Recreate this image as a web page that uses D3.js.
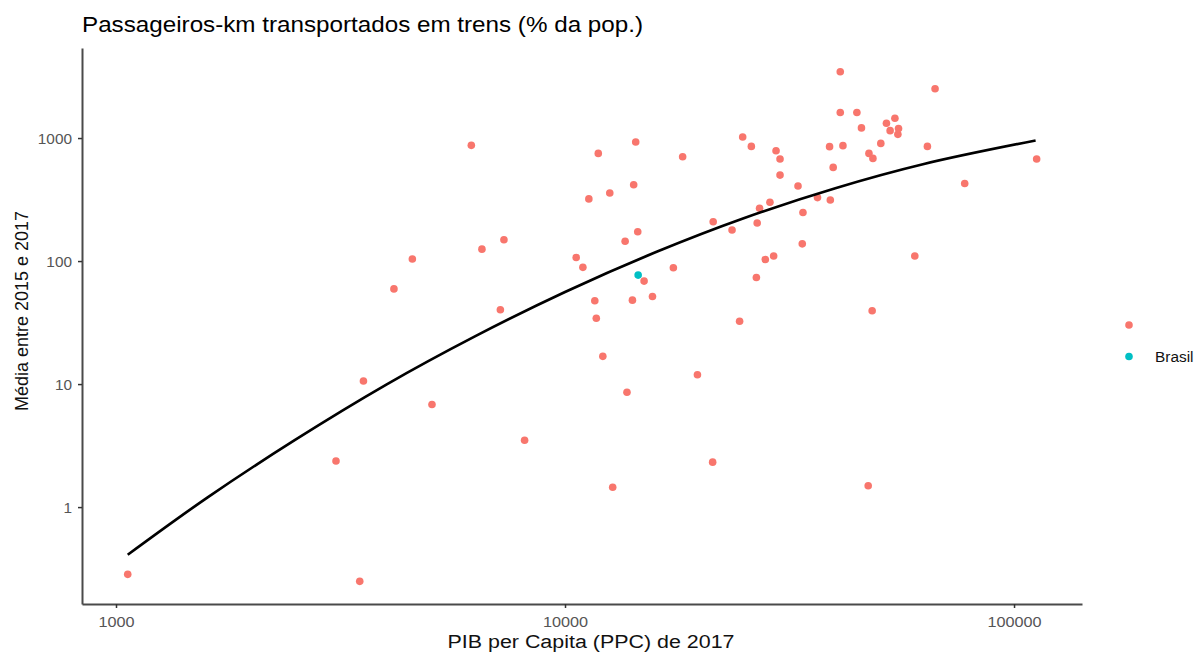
<!DOCTYPE html>
<html>
<head>
<meta charset="utf-8">
<script src="https://cdnjs.cloudflare.com/ajax/libs/d3/7.8.5/d3.min.js"></script>
<style>
  body { margin: 0; background: #fff; }
  svg text { font-family: "Liberation Sans", Arial, sans-serif; }
</style>
</head>
<body>
<div class="chartContainer"></div>
<script>
// PIB per capita (PPC, 2017) and passageiros-km (% pop.)
const pibOutros = [
  1062, 3090, 3490, 3557, 4159, 4571, 5055, 6185, 6531, 7178,
  7311, 8128, 10590, 10960, 11300, 11650, 11740, 11860, 12140, 12580,
  12770, 13610, 13740, 14130, 14220, 14370, 14520, 15000, 15660, 17430,
  18280, 19720, 21320, 21380, 23550, 24480, 24870, 26000, 26680, 26790,
  27120, 27930, 28600, 29150, 29510, 30120, 30120, 33030, 33760, 33880,
  36500, 38830, 38980, 39560, 41020, 41020, 41590, 44670, 45730, 47340,
  47520, 48310, 48500, 50500, 51980, 52970, 54290, 55120, 55300, 60120,
  64130, 66700, 77650, 112300
];
const passOutros = [
  0.284, 2.37, 0.249, 10.6, 59.4, 104, 6.82, 872, 125, 40.2,
  149, 3.49, 107, 88.9, 320, 47.6, 34.3, 750, 16.8, 357,
  1.45, 145, 8.59, 48.1, 417, 929, 173, 68.7, 51.5, 88.2,
  705, 11.9, 2.32, 209, 179, 32.4, 1020, 855, 73.6, 204,
  269, 103, 301, 110, 789, 676, 500, 407, 138, 248,
  328, 851, 314, 577, 3460, 1611, 867, 1611, 1209, 1.49,
  750, 39.5, 683, 905, 1318, 1149, 1448, 1072, 1193, 110,
  855, 2514, 427, 676
];
const pibBrasil = [14550];
const passBrasil = [76.9];

// fitted curve (log-log)
const fitPib = [1062, 1600, 2500, 4000, 6300, 10000, 16000, 25000, 40000, 63000, 111700];
const fitPass = [0.41, 1.2, 3.5, 9.9, 24.4, 56, 119, 223, 391, 615, 955];

const legendGroups = ["", "Brasil"];
const groupColors = ["#F8766D", "#00BFC4"];
const xTicks = [1000, 10000, 100000];
const yTicks = [1, 10, 100, 1000];

document.addEventListener("DOMContentLoaded", function () {
  const W = 1200;
  const H = 655;
  const left = 82, right = 1082, top = 48, bottom = 604;

  const svg = d3
    .select(".chartContainer")
    .append("svg")
    .attr("width", W)
    .attr("height", H);

  // the reference text is a little wider than the font, so stretch it
  function stretch(sel, factor) {
    sel.each(function () {
      var w = this.getComputedTextLength();
      d3.select(this)
        .attr("textLength", w * factor)
        .attr("lengthAdjust", "spacingAndGlyphs");
    });
  }

  // Scales (ggplot-style 5% expansion on log axes)
  const x = d3.scaleLog().domain([840, 141700]).range([left, right]);
  const y = d3.scaleLog().domain([0.163, 5395]).range([bottom, top]);

  // Title
  svg
    .append("text")
    .attr("x", left)
    .attr("y", 32)
    .text("Passageiros-km transportados em trens (% da pop.)")
    .style("font-size", "22px")
    .attr("fill", "#000")
    .attr("textLength", 561)
    .attr("lengthAdjust", "spacingAndGlyphs");

  // Points
  const outros = pibOutros.map((d, i) => ({ x: d, y: passOutros[i], g: 0 }));
  const brasil = pibBrasil.map((d, i) => ({ x: d, y: passBrasil[i], g: 1 }));

  svg
    .append("g")
    .selectAll("circle")
    .data(outros.concat(brasil))
    .enter()
    .append("circle")
    .attr("cx", (d) => x(d.x))
    .attr("cy", (d) => y(d.y))
    .attr("r", 3.8)
    .attr("fill", (d) => groupColors[d.g]);

  // Fitted line
  const fit = fitPib.map((d, i) => [d, fitPass[i]]);
  svg
    .append("path")
    .datum(fit)
    .attr("fill", "none")
    .attr("stroke", "#000")
    .attr("stroke-width", 2.7)
    .attr(
      "d",
      d3
        .line()
        .x((d) => x(d[0]))
        .y((d) => y(d[1]))
        .curve(d3.curveCatmullRom)
    );

  // Axes
  const xAxis = svg
    .append("g")
    .attr("transform", "translate(0," + bottom + ")")
    .call(d3.axisBottom(x).tickValues(xTicks).tickFormat(d3.format("d")).tickSize(4).tickSizeOuter(0));
  const yAxis = svg
    .append("g")
    .attr("transform", "translate(" + left + ",0)")
    .call(d3.axisLeft(y).tickValues(yTicks).tickFormat(d3.format("d")).tickSize(4).tickSizeOuter(0));

  [xAxis, yAxis].forEach((a) => {
    a.select(".domain").attr("stroke", "#4a4a4a").attr("stroke-width", 2);
    a.selectAll(".tick line").attr("stroke", "#333").attr("stroke-width", 1.5);
    a.selectAll(".tick text").attr("fill", "#555").style("font-size", "14.5px");
  });
  xAxis.selectAll(".tick text").attr("y", 0).attr("dy", 23);
  yAxis.selectAll(".tick text").attr("x", -10).attr("dy", "0.36em");
  stretch(xAxis.selectAll(".tick text"), 1.12);
  stretch(yAxis.selectAll(".tick text"), 1.06);

  // Axis titles
  const xTitle = svg
    .append("text")
    .attr("x", 591)
    .attr("y", 648)
    .attr("text-anchor", "middle")
    .text("PIB per Capita (PPC) de 2017")
    .style("font-size", "18px")
    .attr("fill", "#111");
  stretch(xTitle, 1.19);

  svg
    .append("text")
    .attr("transform", "translate(28,311) rotate(-90)")
    .attr("text-anchor", "middle")
    .text("Média entre 2015 e 2017")
    .style("font-size", "18px")
    .attr("fill", "#111");

  // Legend
  const legend = svg.append("g").attr("id", "legend");
  legend
    .selectAll("circle")
    .data(legendGroups)
    .enter()
    .append("circle")
    .attr("cx", 1129)
    .attr("cy", (d, i) => 325 + i * 31.5)
    .attr("r", 3.8)
    .attr("fill", (d, i) => groupColors[i]);
  const legendText = legend
    .selectAll("text")
    .data(legendGroups)
    .enter()
    .append("text")
    .attr("x", 1155)
    .attr("y", (d, i) => 325 + i * 31.5)
    .attr("dy", "0.36em")
    .text((d) => d)
    .style("font-size", "14px")
    .attr("fill", "#111");
  stretch(legendText.filter((d) => d !== ""), 1.1);
});
</script>
</body>
</html>
